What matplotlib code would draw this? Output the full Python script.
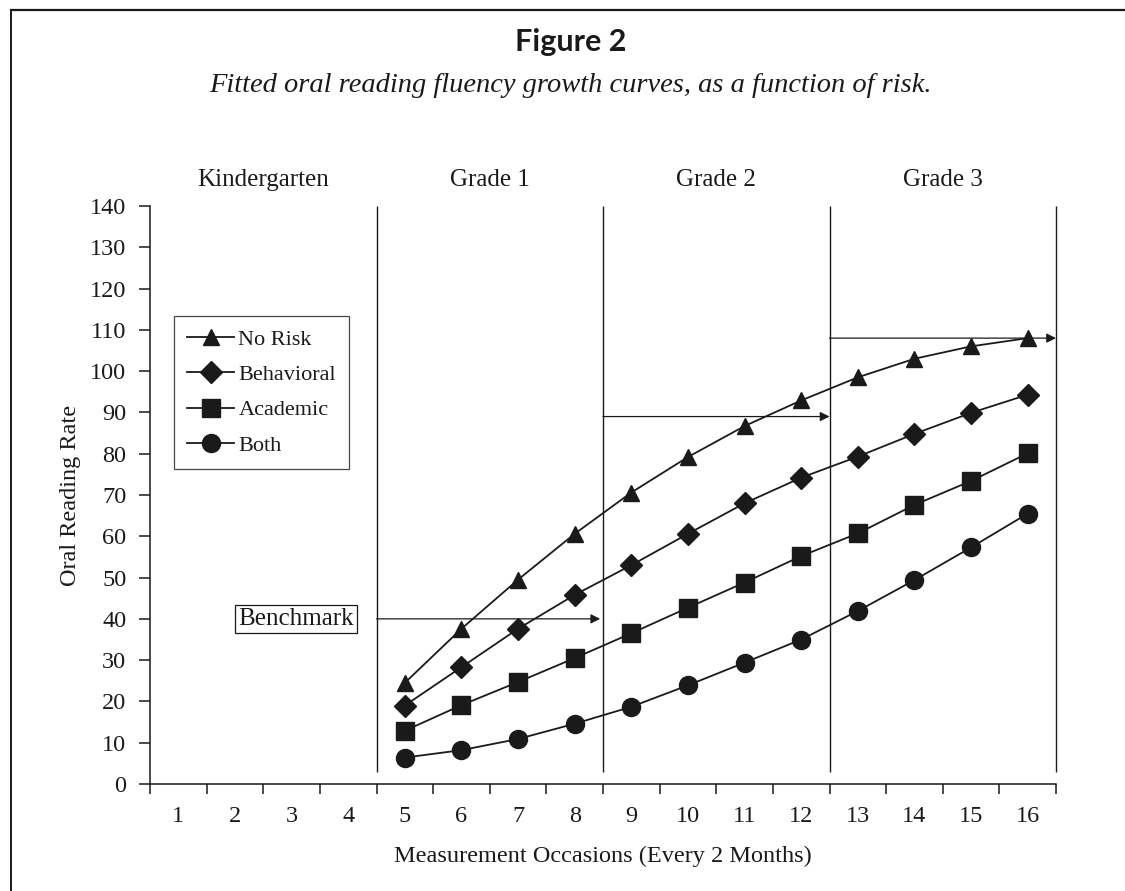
import matplotlib
matplotlib.use("Agg")
import matplotlib.pyplot as plt
from matplotlib.lines import Line2D

# occasions 5..16 (grades 1-3), kindergarten has no data
occasions = [5, 6, 7, 8, 9, 10, 11, 12, 13, 14, 15, 16]
no_risk = [24.5, 37.6, 49.5, 60.6, 70.6, 79.2, 86.7, 92.9, 98.5, 103.0, 106.0, 108.0]
behavioral = [19.0, 28.3, 37.6, 45.8, 53.0, 60.6, 68.0, 74.2, 79.3, 84.8, 89.9, 94.3]
academic = [12.9, 19.1, 24.7, 30.5, 36.5, 42.7, 48.8, 55.2, 60.7, 67.6, 73.4, 80.1]
both = [6.4, 8.2, 10.9, 14.6, 18.7, 23.9, 29.4, 35.0, 41.9, 49.4, 57.3, 65.5]

series_names = ["No Risk", "Behavioral", "Academic", "Both"]
grade_names = ["Kindergarten", "Grade 1", "Grade 2", "Grade 3"]
grade_bounds = [0.5, 4.5, 8.5, 12.5, 16.5]
# benchmark arrows: (start, end, level)
benchmarks = [(4.5, 8.45, 40), (8.5, 12.5, 89), (12.5, 16.5, 108)]

serif = "Liberation Serif"
ink = "#1a1a1a"

fig = plt.figure(figsize=(11.25, 8.91), dpi=100)
ax = fig.add_axes([150 / 1125, 1 - 784 / 891, 906 / 1125, 578 / 891])

markers = ["^", "D", "s", "o"]
msizes = [12, 11, 13, 13]
for vals, name, m, ms in zip([no_risk, behavioral, academic, both], series_names, markers, msizes):
    ax.plot(occasions, vals, color=ink, lw=1.3, marker=m, ms=ms, mfc=ink, mec=ink, label=name, zorder=3)

ax.set_xlim(0.5, 16.5)
ax.set_ylim(0, 140)

# grade dividers
ax.vlines(grade_bounds[1:], 3, 140, color=ink, lw=1.0, clip_on=False)

for x0, x1, lvl in benchmarks:
    ax.annotate("", xy=(x1, lvl), xytext=(x0, lvl),
                arrowprops=dict(arrowstyle="-|>", color=ink, lw=0.9, mutation_scale=14,
                                shrinkA=0, shrinkB=0), annotation_clip=False)

ax.text(3.07, 40, "Benchmark", family=serif, fontsize=18, ha="center", va="center", color=ink,
        bbox=dict(boxstyle="square,pad=0.13", fc="white", ec=ink, lw=0.9))

for i, g in enumerate(grade_names):
    ax.text((grade_bounds[i] + grade_bounds[i + 1]) / 2, 146.3, g, family=serif, fontsize=18,
            ha="center", va="center", color=ink, clip_on=False)

# spines / ticks
for s in ["top", "right"]:
    ax.spines[s].set_visible(False)
for s in ["left", "bottom"]:
    ax.spines[s].set_color(ink)
    ax.spines[s].set_linewidth(1.1)

ax.set_xticks(grade_bounds[:1] + [x + 0.5 for x in range(1, 17)])
ax.set_xticklabels([])
ax.set_xticks(range(1, 17), minor=True)
ax.set_xticklabels([str(i) for i in range(1, 17)], minor=True, family=serif, fontsize=17.5, color=ink)
ax.tick_params(axis="x", which="major", direction="out", length=7, width=1.1, color=ink)
ax.tick_params(axis="x", which="minor", length=0, pad=16)
ax.set_yticks(range(0, 141, 10))
ax.set_yticklabels([str(v) for v in range(0, 141, 10)], family=serif, fontsize=17.5, color=ink)
ax.tick_params(axis="y", direction="out", length=8, width=1.1, color=ink, pad=9)

ax.set_xlabel("Measurement Occasions (Every 2 Months)", family=serif, fontsize=17.5, color=ink)
ax.xaxis.set_label_coords(0.5, -0.126)
ax.xaxis.label.set_va("center")
ax.set_ylabel("Oral Reading Rate", family=serif, fontsize=17.5, color=ink)
ax.yaxis.set_label_coords(-0.088, 0.5)
ax.yaxis.label.set_va("center")

leg = ax.legend(loc="upper left", bbox_to_anchor=(24 / 906, (784 - 316) / 578),
                prop={"family": serif, "size": 16}, frameon=True, fancybox=False,
                edgecolor=ink, handlelength=2.1, handletextpad=0.2, labelspacing=0.66,
                borderpad=0.6, borderaxespad=0)
leg.get_frame().set_linewidth(0.9)
for t in leg.get_texts():
    t.set_color(ink)

# titles
fig.text(0.507, 1 - 42 / 891, "Figure 2", family="Lato", weight="bold", fontsize=22,
         ha="center", va="center", color=ink)
fig.text(0.507, 1 - 85 / 891, "Fitted oral reading fluency growth curves, as a function of risk.",
         family=serif, style="italic", fontsize=20.5, ha="center", va="center", color=ink)

# page frame (left and top edges only are visible)
fig.add_artist(Line2D([11 / 1125, 11 / 1125], [0, 1 - 10 / 891], color=ink, lw=1.4))
fig.add_artist(Line2D([11 / 1125, 1], [1 - 10 / 891, 1 - 10 / 891], color=ink, lw=1.6))

fig.savefig("out.png", dpi=100)
